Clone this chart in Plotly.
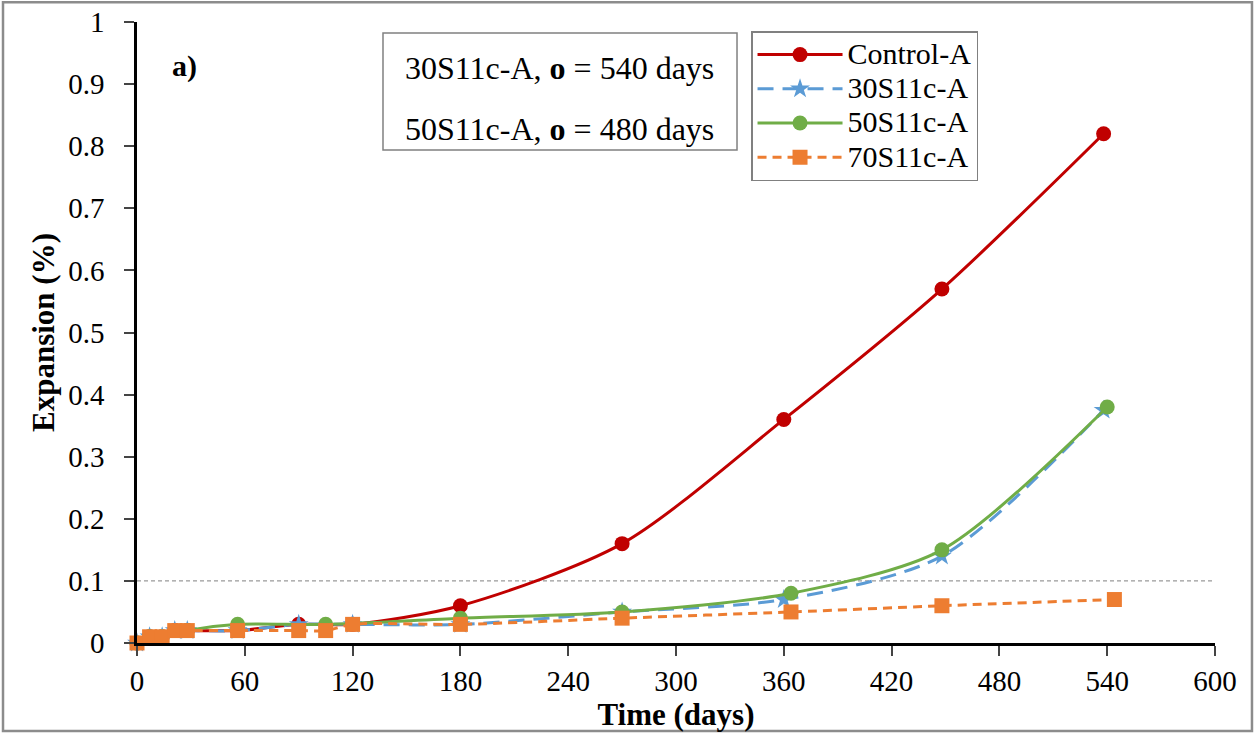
import plotly.graph_objects as go

# Data
ctrl_x = [0, 7, 14, 21, 28, 56, 90, 120, 180, 270, 360, 448, 538]
ctrl_y = [0, 0.01, 0.01, 0.02, 0.02, 0.02, 0.03, 0.03, 0.06, 0.16, 0.36, 0.57, 0.82]

s30_x = [0, 7, 14, 21, 28, 56, 90, 120, 180, 270, 360, 448, 538]
s30_y = [0, 0.01, 0.01, 0.02, 0.02, 0.02, 0.03, 0.03, 0.03, 0.05, 0.07, 0.14, 0.375]

s50_x = [0, 7, 14, 28, 56, 105, 180, 270, 364, 448, 540]
s50_y = [0, 0.01, 0.01, 0.02, 0.03, 0.03, 0.04, 0.05, 0.08, 0.15, 0.38]

s70_x = [0, 7, 14, 21, 28, 56, 90, 105, 120, 180, 270, 364, 448, 544]
s70_y = [0, 0.01, 0.01, 0.02, 0.02, 0.02, 0.02, 0.02, 0.03, 0.03, 0.04, 0.05, 0.06, 0.07]

series_names = ["Control-A", "30S11c-A", "50S11c-A", "70S11c-A"]

x_ticks = list(range(0, 601, 60))
y_ticks = [i / 10 for i in range(0, 11)]
y_tick_labels = ["0"] + [f"{v:.1f}" for v in y_ticks[1:-1]] + ["1"]

FONT = "Liberation Serif"


def leg(name):
    return f'<span style="font-size:30px">{name}</span>'


fig = go.Figure()
fig.add_trace(go.Scatter(x=ctrl_x, y=ctrl_y, name=leg(series_names[0]), mode="lines+markers", cliponaxis=False,
                         line=dict(color="#C00000", width=3, shape="spline", smoothing=0.8),
                         marker=dict(symbol="circle", size=15, color="#C00000")))
fig.add_trace(go.Scatter(x=s30_x, y=s30_y, name=leg(series_names[1]), mode="lines+markers", cliponaxis=False,
                         line=dict(color="#5B9BD5", width=3, dash="16px,9px", shape="spline", smoothing=0.8),
                         marker=dict(symbol="star", size=15, color="#5B9BD5")))
fig.add_trace(go.Scatter(x=s50_x, y=s50_y, name=leg(series_names[2]), mode="lines+markers", cliponaxis=False,
                         line=dict(color="#70AD47", width=3, shape="spline", smoothing=0.8),
                         marker=dict(symbol="circle", size=15, color="#70AD47")))
fig.add_trace(go.Scatter(x=s70_x, y=s70_y, name=leg(series_names[3]), mode="lines+markers", cliponaxis=False,
                         line=dict(color="#ED7D31", width=3, dash="9px,6px", shape="spline", smoothing=0.8),
                         marker=dict(symbol="square", size=15, color="#ED7D31")))

# 0.1 threshold line
fig.add_shape(type="line", xref="paper", x0=0, x1=1, yref="y", y0=0.1, y1=0.1,
              line=dict(color="#808080", width=1, dash="4px,3px"), layer="below")

# annotation box
fig.add_shape(type="rect", xref="paper", yref="paper", x0=0.2282, x1=0.5566, y0=0.7939, y1=0.9823,
              line=dict(color="#808080", width=1.5), fillcolor="white", layer="below")
fig.add_annotation(xref="paper", yref="paper", x=0.392, y=0.926, xanchor="center", yanchor="middle",
                   showarrow=False, text="30S11c-A, <b>o</b> = 540 days",
                   font=dict(family=FONT, size=32, color="black"))
fig.add_annotation(xref="paper", yref="paper", x=0.392, y=0.8277, xanchor="center", yanchor="middle",
                   showarrow=False, text="50S11c-A, <b>o</b> = 480 days",
                   font=dict(family=FONT, size=32, color="black"))
fig.add_annotation(xref="paper", yref="paper", x=0.0445, y=0.929, xanchor="center", yanchor="middle",
                   showarrow=False, text="<b>a)</b>", font=dict(family=FONT, size=30, color="black"))

# outer border
fig.add_shape(type="rect", xref="paper", yref="paper", x0=-0.1243, x1=1.0343, y0=-0.1417, y1=1.032,
              line=dict(color="#8C8C8C", width=2.5))

fig.update_layout(
    width=1255, height=734,
    margin=dict(l=137, r=40, t=22, b=91),
    paper_bgcolor="white", plot_bgcolor="white",
    font=dict(family=FONT, size=29, color="black"),
    showlegend=True,
    legend=dict(x=0.5696, y=0.9855, xanchor="left", yanchor="top",
                bgcolor="white", bordercolor="#808080", borderwidth=1.5,
                font=dict(family=FONT, size=24), tracegroupgap=0, itemwidth=85),
    xaxis=dict(range=[0, 600], tickvals=x_ticks, ticks="outside", ticklen=10, tickwidth=2,
               showline=True, linecolor="black", linewidth=2.5, showgrid=False, zeroline=False,
               automargin=False, ticklabelstandoff=0,
               title=dict(text="<b>Time (days)</b>", font=dict(family=FONT, size=31), standoff=2),
               tickfont=dict(family=FONT, size=29)),
    yaxis=dict(range=[0, 1], tickvals=y_ticks, ticktext=y_tick_labels, ticks="outside", ticklen=10, tickwidth=2,
               showline=True, linecolor="black", linewidth=2.5, showgrid=False, zeroline=False,
               automargin=False, ticklabelstandoff=14,
               title=dict(text="<b>Expansion (%)</b>", font=dict(family=FONT, size=31), standoff=5),
               tickfont=dict(family=FONT, size=29)),
)

fig.write_html("out.html")
